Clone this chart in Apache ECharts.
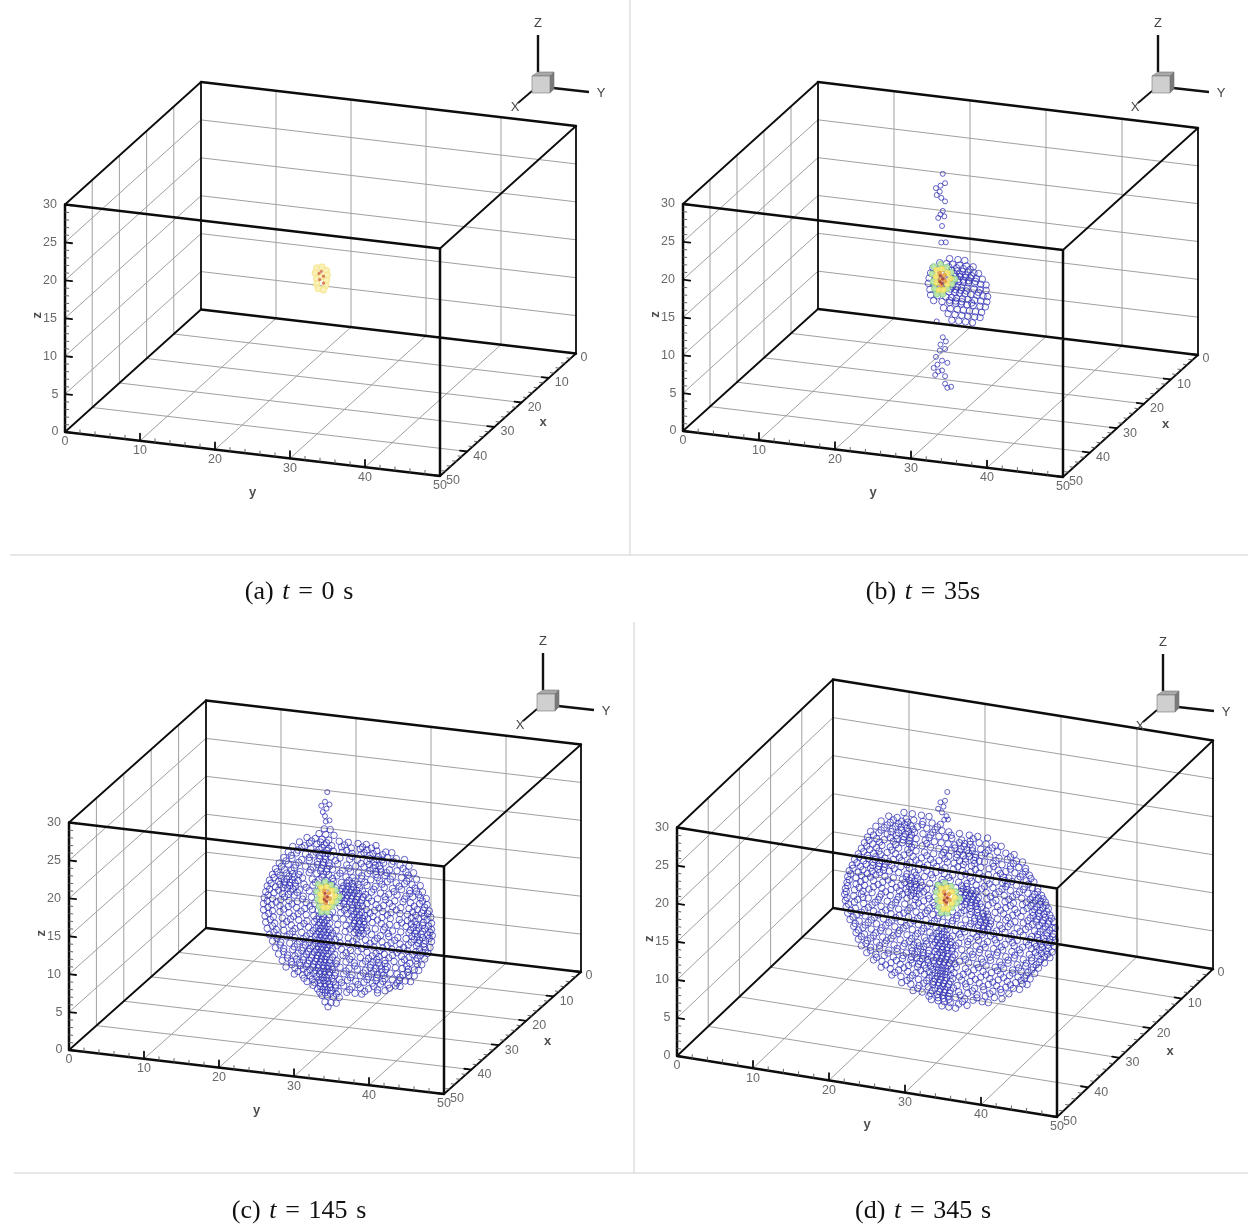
<!DOCTYPE html>
<html><head><meta charset="utf-8">
<style>html,body{margin:0;background:#fff}#main{width:1248px;height:1226px;filter:blur(0.4px)}</style>
<script src="https://cdn.jsdelivr.net/npm/echarts@6/dist/echarts.min.js"></script>
</head><body><div id="main"></div>
<script>
// ---- tick labels ----
const xTicks=[0,10,20,30,40,50];
const yTicks=[0,10,20,30,40,50];
const zTicks=[0,5,10,15,20,25,30];
const sp=' \u200A';
const captions=['(a)'+sp+'{i|t}'+sp+'='+sp+'0'+sp+'s','(b)'+sp+'{i|t}'+sp+'='+sp+'35s','(c)'+sp+'{i|t}'+sp+'='+sp+'145'+sp+'s','(d)'+sp+'{i|t}'+sp+'='+sp+'345'+sp+'s'];
// ---- particle positions: [z,[y,y,...]] ----
const plumeB=[[25.3,29],[25.6,27.8],[25,27.4],[24.4,27],[24.9,26.6],[24.5,26.1],[25.1,25.8],[25.6,25.4],[25.3,24.1],[25,23.6],[24.7,23.1],[25.5,23.4],[25.2,22.1],[25.1,19.9],[25.7,20],[24.5,9.4],[25.3,7.4],[25.7,6.9],[25,6.4],[25.6,5.9],[24.9,5.6],[24.4,4.7],[25.2,4.3],[25.9,4.1],[24.6,3.7],[24.1,3.2],[24.7,2.8],[25.2,3],[24.3,2.3],[25.6,2.3],[25.6,1.3],[25.9,0.8],[26.4,1]];
const cloudB=[
[17.9,[26.2,27.3,28.2]],
[17.2,[24.9,25.8,26.6,27.5,28.4,29.3]],
[16.8,[26.1,27.1,28,28.9]],
[16.4,[24,24.9,25.7,26.5,27.2,27.9,28.6,29.4,30]],
[16,[26.8,27.5,28.3,29.1]],
[15.7,[23.7,24.4,25.3,26.2,27,27.6,28.3,28.9,29.7,30.5]],
[15.3,[26.6,27.3,28,28.7,29.6]],
[15,[23.5,24.3,25.1,26,26.8,27.4,28,28.7,29.5,30.3,31]],
[14.3,[23.4,24.2,25,25.9,26.6,27.2,27.8,28.5,29.4,30.2,31]],
[13.9,[26.3,27,27.7,28.4,30]],
[13.5,[23.6,24.5,25.3,26.1,26.9,27.5,28.2,29,29.8,30.6,31.2]],
[12.8,[23.7,24.6,25.7,26.5,27.1,27.9,28.6,29.5,30.3,31.1]],
[12.4,[26.2,27,27.8,29.1]],
[12.1,[24.1,25.2,26.2,27,27.7,28.5,29.3,30.2,30.9]],
[11.3,[25.4,26.3,27.2,28,28.8,29.6,30.4]],
[10.6,[26,26.9,27.8,28.6,29.5,30.2]],
[9.8,[26.5,27.4,28.3,29.2]]];
const plumeC=[[25.3,28.9],[25,27.6],[25.6,27.3],[24.5,27],[25.2,26.7],[24.7,26.2],[25,25.7],[25.6,25.2],[25.1,25]];
const cloudC=[
[24,[24.9,25.7]],
[23.3,[24.2,25.1,26.2]],
[22.6,[22.6,23.7,24.6,25.5,26.9,28.1,29.4,30.5,31.8]],
[21.9,[21.6,22.9,23.9,24.9,25.9,27.2,28.5,29.7,30.6,31.9,33.1,33.9]],
[21.2,[20.7,21.9,23.1,24.2,25.2,26.1,27.3,28.6,29.8,31,32.1,33.3,34.5,35.6]],
[20.4,[20.1,21.2,22.4,23.4,24.3,25,25.8,27,28.3,29.3,30.6,31.5,32.8,33.9,35,36.2]],
[19.6,[19.5,20.6,21.9,22.9,24,24.8,25.5,26.7,27.9,29.1,30.2,31.4,32.4,33.6,34.6,35.8,36.8]],
[18.8,[18.9,20.1,21.1,22.4,23.4,24.5,25.3,26,27.3,28.4,29.5,30.7,31.8,33,34,35.2,36.2,37.2]],
[18,[18.4,19.6,20.5,21.7,22.9,23.9,24.8,25.5,26.6,27.8,28.7,29.9,31.1,32.3,33.3,34.5,35.6,36.6,37.7]],
[17.2,[18,19,20.2,20.9,22,23.3,24.2,25.1,26.1,27.2,27.9,28.6,29.4,30.6,31.7,32.9,34,35.2,36.3,37.2,38]],
[16.4,[17.6,18.8,19.6,20.3,21,22.2,23.4,24.4,25.4,26.4,27.3,27.9,28.5,29.2,30,31.2,32.4,33.5,34.6,35.8,36.7,37.7,38.5]],
[15.6,[17.3,18.4,19.4,20,20.7,21.6,22.9,23.9,26.6,27.4,28,28.6,29.3,30.1,30.8,32,33.1,34.3,35.4,36.4,37.6,38.6]],
[14.8,[17.1,18.2,19.3,20.1,20.9,22.1,23.2,26.9,27.6,28.3,29,29.7,30.6,31.8,32.8,34,35.1,36.2,37.3,38.1,38.9]],
[14,[16.9,18,19.1,20.2,21.3,22.5,23.6,27,27.9,28.7,29.5,30.5,31.6,32.7,33.8,35,36,37.1,38.2,39.1]],
[13.2,[16.8,17.9,19,20.1,21.2,22.3,23.3,24.1,25.2,26,27.1,28,28.9,29.6,30.3,31.4,32.6,33.7,34.9,36,37,38.1,39.2]],
[12.4,[16.8,18,19,20.2,21.4,22.5,23.5,24.2,24.8,25.5,26.4,27.4,28.3,29,29.6,30.2,31.3,32.5,33.6,34.6,35.8,36.8,37.5,38.3,39.2]],
[11.6,[17,18.1,19.3,20.4,21.5,22.6,23.6,24.3,24.9,25.6,26.7,27.8,28.7,29.3,29.9,30.5,31.7,32.8,34,35.1,36.2,37,37.8,38.7,39.3]],
[10.8,[17.1,18.3,19.4,20.5,21.7,22.8,23.8,24.4,25,25.6,26.5,27.7,28.9,29.5,30.1,31.2,32.4,33.5,34.7,35.8,36.9,37.6,38.4,39.2]],
[10,[17.3,18.5,19.5,20.7,21.9,23,23.9,24.5,25.1,25.8,26.9,28.1,29.2,30.4,31.6,32.6,33.8,35,36.1,37.2,38.2,39]],
[9.2,[17.6,18.7,19.9,21,22.1,23.1,24,24.6,25.2,25.9,27,28.1,29.3,30.5,31.5,32.7,33.9,34.9,36,37.1,38,38.7]],
[8.4,[18,19.1,20.3,21.3,22.4,23.4,24.1,24.7,25.3,26,27.2,28.4,29.4,30.6,31.8,32.9,34,35.2,36.2,37.3,38.3]],
[7.6,[18.4,19.5,20.7,21.9,22.8,23.6,24.2,24.8,25.4,26.3,27.4,28.6,29.7,30.8,31.9,33,34.2,35.2,36.3,37.3,37.9]],
[6.8,[18.8,20,21,22.2,23.2,23.9,24.5,25,25.6,26.6,27.8,28.9,30,31.1,32.3,33.3,34.4,35.3,36.1,36.9,37.5]],
[6,[19.3,20.5,21.6,22.7,23.5,24.1,24.7,25.3,25.9,27,28.2,29.3,30.4,31.5,32.6,33.7,34.6,35.4,36.2,36.9]],
[5.2,[19.8,21,22.1,23,23.8,24.4,25,25.6,26.4,27.5,28.6,29.7,30.8,31.9,33,34,34.9,35.7,36.4]],
[4.4,[20.9,22,23,23.9,24.6,25.2,25.9,26.9,28,29.1,30.2,31.3,32.4,33.4,34.4,35]],
[3.6,[22.6,23.6,24.4,25,25.6,26.4,27.5,28.6,29.7,30.8,32,33]],
[2.8,[24,24.7,25.3,25.9,26.8,27.9,29,29.9]],
[2,[24.6,25.3,26.1,26.9]],
[1.2,[25,25.8,26.5]],
[0.6,[25.4]]];
// second depth layer of cloud C, between the rows above, with the darker patches
const cloudC2=[
[22.2,[23.2,24.4,25.2,27.6,30,31.2]],
[21.5,[22.3,24.6,25.5,27.9,30.2,31.4,32.7]],
[20.8,[21.4,23.8,24.7,25.4,28.6,31,31.9,32.6,34.1]],
[20,[20.5,22.9,24.3,25.1,26.4,29.8,30.9,31.7,32.3,35.4]],
[19.2,[19.8,21.5,24,24.7,25.6,28.2,31,31.8,32.5,33.2,36.1]],
[18.4,[19.2,20.9,23.1,24.4,25.2,27,29.9,32,33.7,35.9]],
[17.6,[18.6,19.9,20.7,21.5,24.6,26,28.2,29,30.3,32.6,34.9,37]],
[16.8,[18.2,19.2,19.9,20.6,21.4,23.7,25.9,27.5,28.1,28.8,29.6,31.5,34.2,36.3,37.5]],
[16,[17.8,19,19.7,20.3,21.1,22.5,27,27.7,28.3,28.9,29.5,30.4,33,35.6,38]],
[15.2,[17.6,18.8,20.4,21.3,27.2,27.9,28.5,29.2,29.9,31.2,33.6,36.9,38.3]],
[14.4,[17.4,19.6,22,27.5,28.6,29.3,30,32.2,34.5,36.7,37.9,38.7]],
[13.6,[17.3,18.5,20.6,23,27.6,28.5,29.2,29.9,31,33.3,36.5,37.5,38.6]],
[12.8,[17.4,19.5,21.8,24.5,25.6,28.6,29.3,30,30.7,32,35.2,36.5,37.2,38,38.8]],
[12,[17.5,20.8,23.9,24.6,25.2,28.9,29.6,30.2,33,36.4,37.2,38,39]],
[11.2,[17.7,19.9,22.2,24.1,24.7,25.3,28.3,29.2,29.8,30.6,33.4,36.6,37.3,38,38.9]],
[10.4,[18,21,23.4,24.2,24.8,25.4,26,29.7,32,34.3,36.5,37.4,38.2]],
[9.6,[18.2,20.3,22.5,23.7,24.3,24.9,25.5,26.4,28.7,31,33.3,35.5,37.6,38.4]],
[8.8,[18.6,21.6,22.9,23.8,24.4,25,25.6,26.6,29.9,32.3,34.6,36.7,37.7]],
[8,[19,20.9,22.1,23,23.9,24.5,25.1,25.8,27.8,31.3,32.2,33.5,35.6,37.1]],
[7.2,[19.5,21.4,22.5,23.3,24,24.6,25.2,26,28.3,30.4,31.4,32.1,33,35.9]],
[6.4,[20,21.2,22.1,22.9,23.7,24.4,25,25.6,26.5,29,31,31.8,32.5,33.1,36]],
[5.6,[20.6,21.7,22.5,23.4,24.1,24.8,25.4,26,27.8,30.1,31.2,32,32.8,35]],
[4.8,[21.4,22.6,23.5,24.3,24.9,25.5,26.3,28.4,30.6,31.8,32.7,34.6]],
[4,[22.2,23.3,24.2,24.8,25.4,26.1,27.2,29.4,31.5,33.6]],
[3.2,[23.4,24.4,25,25.7,26.4,28.3,30.3,32]],
[2.4,[24.3,25,25.7,26.5]]];
const plumeD=[[25.3,29],[25,27.8],[24.4,27.5],[24.8,27],[24.1,26.6],[24.6,26.2],[25.2,25.8],[24.9,25.3],[25.4,25.4]];
const cloudD=[
[25.4,[19.6,20.7,21.9,22.9]],
[24.6,[17.6,18.7,19.9,20.9,22.1,23.3,24.4]],
[23.8,[16.6,17.8,18.9,19.7,20.5,21.4,22.6,23.7,24.6,25.5,26.9,28.2,29.3,30.6]],
[23,[15.9,17,18.1,19.3,20.2,21,22.1,23.1,24.2,25.1,25.9,27.2,28.3,29.5,30.4,31.6,32.4]],
[22.2,[15.2,16.3,17.4,18.6,19.6,20.4,21.2,22.4,23.6,24.5,25.4,26.3,27.5,28.6,29.7,30.7,31.9,33,34.1]],
[21.4,[14.8,16,17,18.2,19.4,20.3,21,22,23.1,24.2,25.1,25.8,26.9,28.1,29,29.8,30.9,32.1,33.2,34.4,35.2]],
[20.6,[14.4,15.5,16.7,17.8,18.9,20.1,21.2,22.3,23.5,24.6,25.5,26.5,27.7,28.8,29.5,30.2,31.3,32.5,33.6,34.7,35.6]],
[19.8,[14,15.1,16.3,17.4,18.5,19.6,20.8,21.9,23.1,24.2,25.3,26.2,27.4,28.5,29.7,30.8,32,33,34.2,35.2,36.1]],
[19,[13.6,14.8,15.9,17.1,18.2,19.3,20.4,21.6,22.7,23.9,25,26.1,27.3,28.4,29.5,30.7,31.8,32.7,33.4,34.6,35.7,36.7]],
[18.2,[13.1,14.3,15.5,16.4,17.1,18,19.2,20.3,21.5,22.6,23.8,24.9,26,27.1,28.3,29.4,30.5,31.7,32.6,33.2,34.4,35.5,36.5,37.2]],
[17.4,[12.8,13.9,15.2,16.2,16.9,17.7,18.9,20,21.2,22.3,23.4,24.6,25.7,26.8,27.9,29.1,30.2,31.3,32.5,33.6,34.8,35.9,36.8,37.7]],
[16.6,[12.4,13.6,14.8,15.9,17.1,18.2,19.4,20.3,21,21.8,23,24.1,25.3,26.4,27.4,28,28.6,29.2,30.4,31.6,32.8,33.9,35.1,36.2,36.9,37.6,38.2]],
[15.8,[12.2,13.3,14.5,15.6,16.8,18,19.2,20.3,21,21.7,22.6,23.8,27,27.7,28.2,28.8,29.4,30.5,31.7,32.9,34,35.2,36.3,37.1,37.9,38.6]],
[15,[12.1,13.3,14.4,15.6,16.7,17.9,19,20.1,20.9,21.6,22.8,23.7,27.1,27.8,28.4,29,29.6,30.7,31.9,33,34.2,35.3,36.5,37.3,38,38.8]],
[14.2,[11.9,13.1,14.2,15.4,16.6,17.8,18.9,20,21.1,22.2,23.4,27.2,28.3,29.3,30.4,31.6,32.7,33.9,35,36.2,37.1,37.9,38.7,39.3]],
[13.4,[11.8,13,14.2,14.9,16.2,17.4,18.5,19.7,20.9,22,23,24,25.1,26,27.1,28.3,29.4,30.1,30.7,31.9,33,34.2,35.3,36.5,37.4,38.2,39.1,39.5]],
[12.6,[11.9,13.1,14.3,15.4,16.6,17.8,18.9,20.1,21.2,22.4,23.4,24.2,25.4,26.5,27.7,28.9,29.7,30.4,31,32.2,33.3,34.5,35.6,36.8,37.5,38.4,39.3]],
[11.8,[12,13.2,14.4,15.6,16.7,17.9,19,20.2,21.4,22.5,23.6,24.7,25.9,27.1,28.2,29.3,30,30.6,31.8,32.9,34.1,35.3,36.4,37.2,38,38.8,39.5]],
[11,[12.2,13.4,14.5,15.7,16.9,18,19.2,20.4,21.5,22.7,23.8,24.6,25.3,26.4,27.6,28.7,29.9,31,32.2,33.4,34.5,35.7,36.8,37.6,38.5,39.4]],
[10.2,[12.5,13.7,14.9,16,17.2,18.4,19.5,20.7,21.9,23,23.9,24.6,25.2,26,27.1,28.3,29.4,30.6,31.8,32.9,34.1,35.2,36.4,37.4,38.3,39.1]],
[9.4,[13,14.2,15.3,16.5,17.6,18.8,20,21.1,22.3,23.3,24,24.6,25.2,25.8,26.8,28,29.1,30.3,31.4,32.6,33.8,34.9,36.1,37.2,38.1,38.8]],
[8.6,[13.3,14.4,15.6,16.8,17.9,19.1,20.3,21.4,22.6,23.5,24.1,24.7,25.3,26,27.2,28.3,29.5,30.7,31.8,33,34.1,35.3,36.4,37.4,38.1]],
[7.8,[13.6,14.8,16,17.1,18.3,19.5,20.6,21.8,22.9,23.7,24.3,24.8,25.4,26.3,27.5,28.7,29.8,31,32.2,33.3,34.5,35.6,36.6,37.3]],
[7,[14,15.2,16.4,17.6,18.7,19.9,21,22.2,23.2,23.9,24.5,25.1,25.8,26.9,28.1,29.2,30.4,31.6,32.7,33.9,35,35.9,36.8]],
[6.2,[14.7,15.9,17,18.2,19.4,20.5,21.7,22.8,23.6,24.2,24.8,25.4,26.5,27.7,28.8,30,31.1,32.3,33.5,34.6,35.5,36.2]],
[5.4,[15.6,16.7,17.9,19.1,20.2,21.4,22.5,23.4,24.1,24.7,25.3,26.2,27.4,28.5,29.7,30.9,32,33.2,34.3,35.2,35.8]],
[4.6,[16.6,17.8,18.9,20.1,21.2,22.3,23.3,24,24.6,25.2,26,27.2,28.3,29.5,30.7,31.8,33,34,34.8]],
[3.8,[18,19.2,20.4,21.5,22.6,23.5,24.2,24.8,25.5,26.6,27.8,28.9,30.1,31.3,32.4,33.4]],
[3,[19.3,20.5,21.6,22.8,23.7,24.4,25,25.7,26.8,28,29.2,30.3,31.5,32.5]],
[2.2,[20.8,22,23.1,24,24.7,25.4,26.4,27.6,28.7,29.9,30.7]],
[1.4,[23.2,24.1,24.9,25.7,26.8,27.9]],
[0.8,[24.6,25.5,26.4]]];
const cloudD2=[
[24.2,[18.2,19.3,20.1,22,24]],
[23.4,[17.4,18.5,19.2,20,20.8,23.4,25.8,28.7]],
[22.6,[16.6,17.9,18.9,19.8,20.6,22.9,26.9,27.6,28.3,31.2]],
[21.8,[15.6,17.8,18.7,19.5,20.3,22.6,26.3,27.1,27.9,28.6,30.3,33.6]],
[21,[15,16.4,18.5,20.6,24.8,26.6,27.4,28.2,29,31.7,34]],
[20.2,[14.7,16,18,20.3,22.6,25,26.9,27.7,28.9,31.4,33.6,35.6]],
[19.4,[14.3,15.6,16.5,19,21.2,23.5,26.7,29,32.3,34.9,36.3]],
[18.6,[13.7,14.9,15.8,16.7,17.6,20,22.2,24.5,27.7,30,32.9,33.8,36]],
[17.8,[13.4,14.6,15.5,16.3,17,18.3,21,23.2,25.5,28.5,30.8,33,35.3,37.2]],
[17,[12.9,14.2,15.4,16.4,19.9,20.6,21.4,24.7,27.2,27.8,29.8,32.1,34.4,36.5,37.3,37.9]],
[16.2,[12.6,14,15.2,17.5,19.7,20.5,21.2,22,24,27.1,27.8,28.4,29,31,33.4,35.7,36.6,37.5,38.3]],
[15.4,[12.4,13.9,16.2,18.6,19.9,20.6,21.3,22.2,27.4,28,28.6,29.2,31.3,33.6,35.8,36.8,37.5,38.4]],
[14.6,[12.2,13.7,15,17.2,19.4,20.5,21.2,22.9,27.6,28.5,29.1,29.8,32.3,34.5,36.6,37.4,38.2,39]],
[13.8,[12,14,16.4,18.7,21.5,23.6,27.5,28.5,29.2,30,30.6,33.3,35.9,37,37.8,38.6]],
[13,[12.1,13.5,15.8,18,20.4,22.7,24.6,26.6,28.9,29.6,30.3,31,33.6,36,37.9,38.8]],
[12.2,[12.3,14.9,17.2,19.6,21.8,24,26,28.4,29.4,30.1,30.8,32.5,34.9,37.2,38.4,39.2]],
[11.4,[12.6,14,16.2,18.5,20.9,23.2,25.2,27.4,29.5,30.2,31.4,33.7,36.2,37.4,38.2,39]],
[10.6,[12.9,15.3,17.6,19.9,22.2,24.2,24.9,26.9,29.2,31.6,33.9,36,37,37.8,38.6]],
[9.8,[13.2,14.5,16.7,19,21.4,23.4,24.2,24.9,25.6,28,30.1,32.4,34.8,36.9,37.7,38.5]],
[9,[13.6,15.9,18.2,20.6,22.5,23.7,24.4,25,25.7,26.4,29.6,31.9,34.2,36.4,37.6]],
[8.2,[14,15.2,17.3,19.7,20.9,21.6,22.2,23.9,24.6,25.2,25.9,28.6,30.9,33.3,35.7,37]],
[7.4,[14.6,16.4,18.7,20.7,21.4,22.1,22.8,24,24.7,25.3,26,27.7,30,32.4,34.7,36.4]],
[6.6,[15.2,17.5,19.5,20.6,21.3,22,22.7,23.5,24.3,24.9,25.6,26.3,29.4,31.9,33.9,35.7]],
[5.8,[16,18.6,20.7,21.5,22.3,23.1,23.9,24.5,25.1,25.8,28,30.4,32.7,35]],
[5,[17.2,19.6,21.8,22.9,23.7,24.4,25,25.7,26.9,29,31.3,33.6]],
[4.2,[18.4,20.7,22.9,23.7,24.4,25,25.7,27.7,30,32.3]],
[3.4,[20,22.2,23.4,24.1,24.7,25.3,26.1,28.6,30.9]],
[2.6,[21.4,23.3,24.3,24.9,25.6,27,29.2]],
[1.8,[22.9,24.1,24.8,25.5,27.3]]];
const emptyLayer=[];
// ---- source core particles, [y,z], by concentration band ----
const coreAYellow=[[24.5,16.4],[25.2,16.6],[25.8,16.2],[24.3,15.7],[25.9,15.6],[24.5,15],[25.8,14.9],[24.5,14.3],[25.7,14.2],[24.7,13.7],[25.4,13.6],[25.1,15.3]];
const coreARed=[[24.8,15.7],[25.4,15.4],[24.9,14.9],[25.4,14.5],[25.1,16]];
const coreGreen=[[24.1,16.6],[25,17],[25.8,16.7],[26.4,16.1],[23.9,15.6],[26.9,15.3],[24,14.6],[26.5,14.6],[24.2,13.7],[25.9,13.9],[24.5,13],[25.3,13.1]];
const coreYellow=[[24.5,16.2],[25.2,16.4],[25.9,16],[26.3,15.3],[24.4,15.3],[24.5,14.5],[25.9,14.5],[24.8,13.6],[25.4,13.7]];
const coreOrange=[[24.9,15.8],[25.5,15.6],[25,15],[25.6,14.9],[25.1,14.3]];
const coreRed=[[25,15.5],[25.3,15.1],[24.9,14.7],[25.2,14.5]];

const axisBlack='#0c0c0c',gridGray='#a0a0a0',labelGray='#444',particleBlue='#3030b4';
const panels=[
 {left:0,top:0,w:624,h:550,O:[65,432],yv:[375,44],xv:[136,-122.5],zl:227.5,tri:[0,0],clouds:null,plume:null,extra:emptyLayer},
 {left:624,top:0,w:624,h:550,O:[683,431],yv:[380,46],xv:[135,-122],zl:227,tri:[620,0],clouds:cloudB,plume:plumeB,extra:emptyLayer},
 {left:0,top:620,w:624,h:550,O:[69,1050],yv:[375,44],xv:[137,-122],zl:227.5,tri:[5,618],clouds:cloudC,plume:plumeC,extra:cloudC2},
 {left:624,top:620,w:624,h:550,O:[677,1056],yv:[380,61],xv:[156,-148],zl:228.5,tri:[625,619],clouds:cloudD,plume:plumeD,extra:cloudD2}
];
const xMax=50,yMax=50,zMax=30,depth=25;
function proj(p,x,y,z){return [
 p.O[0]+y/yMax*p.yv[0]+(xMax-x)/xMax*p.xv[0]-p.left,
 p.O[1]+y/yMax*p.yv[1]+(xMax-x)/xMax*p.xv[1]-z/zMax*p.zl-p.top];}
const grids=[],xAxes=[],yAxes=[],series=[],graphics=[];
function lineSeries(i,segs,color,width,z){
 const data=[];segs.forEach(s=>{data.push(s[0],s[1],[null,null]);});
 series.push({type:'line',xAxisIndex:i,yAxisIndex:i,data:data,symbol:'none',connectNulls:false,clip:false,silent:true,z:z,
  lineStyle:{color:color,width:width,cap:'round'},animation:false});
}
function scatterSeries(i,pts,size,border,fill,bw,z,op){
 series.push({type:'scatter',xAxisIndex:i,yAxisIndex:i,data:pts,symbol:'circle',symbolSize:size,silent:true,z:z,animation:false,clip:false,
  itemStyle:{color:fill,borderColor:border,borderWidth:bw,opacity:op==null?1:op}});
}
panels.forEach((p,i)=>{
 grids.push({left:p.left,top:p.top,width:p.w,height:p.h,show:false});
 xAxes.push({type:'value',gridIndex:i,min:0,max:p.w,show:false});
 yAxes.push({type:'value',gridIndex:i,min:0,max:p.h,inverse:true,show:false});
 const P=(x,y,z)=>proj(p,x,y,z);
 const g=[];
 [10,20,30,40].forEach(v=>{
  g.push([P(0,v,0),P(0,v,zMax)]);
  g.push([P(v,0,0),P(v,0,zMax)]);
  g.push([P(v,0,0),P(v,yMax,0)]);
  g.push([P(0,v,0),P(xMax,v,0)]);
 });
 [5,10,15,20,25].forEach(v=>{
  g.push([P(0,0,v),P(0,yMax,v)]);
  g.push([P(0,0,v),P(xMax,0,v)]);
 });
 lineSeries(i,g,gridGray,1,1);
 if(p.clouds){
  const pts=[];p.clouds.concat(p.extra).forEach(r=>r[1].forEach(y=>pts.push(P(depth,y,r[0]))));
  scatterSeries(i,pts,6.5,particleBlue,'rgba(255,255,255,0)',1,3,0.75);
  scatterSeries(i,p.plume.map(d=>P(depth,d[0],d[1])),5,particleBlue,'rgba(255,255,255,0)',1,3,0.75);
  scatterSeries(i,coreGreen.map(d=>P(depth,d[0],d[1])),6,'#7ccb8c','#bfe6a8',0.8,4,0.95);
  scatterSeries(i,coreYellow.map(d=>P(depth,d[0],d[1])),5.5,'#e8d84e','#f4e878',0.8,5,0.95);
  scatterSeries(i,coreOrange.map(d=>P(depth,d[0],d[1])),4,'#e09a3c','#eaa850',0.8,6,0.95);
  scatterSeries(i,coreRed.map(d=>P(depth,d[0],d[1])),2.6,'#a8443c','#b04a3c',0.6,7,0.95);
 }else{
  scatterSeries(i,coreAYellow.map(d=>P(depth,d[0],d[1])),6.5,'#f2df78','#faf0b0',0.8,4,0.9);
  scatterSeries(i,coreARed.map(d=>P(depth,d[0],d[1])),2.6,'#cc6a50','#d87a58',0.6,5,0.9);
 }
 const thick=[[P(xMax,0,zMax),P(xMax,yMax,zMax)],[P(xMax,0,0),P(xMax,yMax,0)],[P(xMax,0,0),P(xMax,0,zMax)],[P(xMax,yMax,0),P(xMax,yMax,zMax)],[P(0,0,zMax),P(0,yMax,zMax)],[P(0,0,0),P(0,yMax,0)]];
 const thin=[[P(0,0,0),P(0,0,zMax)],[P(0,yMax,0),P(0,yMax,zMax)],[P(xMax,0,zMax),P(0,0,zMax)],[P(xMax,yMax,zMax),P(0,yMax,zMax)],[P(xMax,0,0),P(0,0,0)],[P(xMax,yMax,0),P(0,yMax,0)]];
 lineSeries(i,thick,axisBlack,2.5,9);
 lineSeries(i,thin,axisBlack,1.8,9);
 const maj=[],min=[];
 for(let v=0;v<=zMax;v++){(v%5===0?maj:min).push([P(xMax,0,v),P(xMax,v%5===0?0.95:0.5,v)]);}
 for(let v=0;v<=yMax;v+=2){(v%10===0?maj:min).push([P(xMax,v,0),P(xMax,v,v%10===0?0.95:0.5)]);}
 for(let v=0;v<=xMax;v+=2){(v%10===0?maj:min).push([P(v,yMax,0),P(v,yMax-(v%10===0?0.95:0.5),0)]);}
 lineSeries(i,maj,axisBlack,1.8,9);
 lineSeries(i,min,'#555',0.9,9);
 const lab=[];
 const add=(pt,dx,dy,text)=>lab.push({value:[pt[0]+dx,pt[1]+dy],text});
 zTicks.forEach(v=>add(P(xMax,0,v),-10-(v>=10?5:0),0,String(v)));
 yTicks.forEach(v=>add(P(xMax,v,0),0,10,String(v)));
 xTicks.forEach(v=>add(P(v,yMax,0),v===0?8:13,v===0?4:5,String(v)));
 series.push({type:'scatter',xAxisIndex:i,yAxisIndex:i,data:lab,symbolSize:1,silent:true,z:10,animation:false,clip:false,itemStyle:{color:'transparent'},
  label:{show:true,position:'inside',formatter:o=>o.data.text,fontFamily:'Liberation Sans',fontSize:12.5,color:labelGray}});
 const a=P(25,yMax,0),b=P(xMax,25,0),c=P(xMax,0,15);
 const titles=[
  {value:[a[0]+35,a[1]+8],text:'x'},
  {value:[b[0],b[1]+38],text:'y'},
  {value:[c[0]-28,c[1]-3],text:'z',label:{rotate:90}}];
 series.push({type:'scatter',xAxisIndex:i,yAxisIndex:i,data:titles,symbolSize:1,silent:true,z:10,animation:false,clip:false,itemStyle:{color:'transparent'},
  label:{show:true,position:'inside',formatter:o=>o.data.text,fontFamily:'Liberation Sans',fontSize:13,fontWeight:'bold',color:'#222'}});
 const t=p.tri,X=v=>v+t[0],Y=v=>v+t[1];
 const seg=(a,b,c,d,w)=>graphics.push({type:'line',shape:{x1:X(a),y1:Y(b),x2:X(c),y2:Y(d)},style:{stroke:'#111',lineWidth:w||2.4},z:12});
 seg(538,35,538,72);seg(553,88,589,92);seg(532,91,518,103,1.8);
 const poly=(pts,f)=>graphics.push({type:'polygon',shape:{points:pts.map(q=>[X(q[0]),Y(q[1])])},style:{fill:f,stroke:'#777',lineWidth:0.6},z:12});
 poly([[532,76],[550,76],[554,72],[538,72]],'#a9a9a9');
 poly([[550,76],[554,72],[554,89],[550,93]],'#7a7a7a');
 poly([[532,76],[550,76],[550,93],[532,93]],'#cfcfcf');
 const txt=(s,a,b)=>graphics.push({type:'text',x:X(a),y:Y(b),style:{text:s,font:'13px "Liberation Sans"',fill:'#444',align:'center',verticalAlign:'middle'},z:12});
 txt('Z',538,23);txt('Y',601,93);txt('X',515,107);
});
[[10,555,1248,555],[630,0,630,555],[14,1173,1248,1173],[634,622,634,1173]].forEach(s=>graphics.push({type:'line',shape:{x1:s[0],y1:s[1],x2:s[2],y2:s[3]},style:{stroke:'#cfcfcf',lineWidth:1},z:1}));
const capPos=[[299,592],[923,592],[299,1211],[923,1211]];
const titleOpt=captions.map((c,i)=>({text:c,left:capPos[i][0],top:capPos[i][1],textAlign:'center',textVerticalAlign:'middle',padding:0,
 textStyle:{fontFamily:'Liberation Serif',fontSize:26,fontWeight:'normal',color:'#111',rich:{i:{fontFamily:'Liberation Serif',fontStyle:'italic',fontSize:26,color:'#111'}}}}));
const chart=echarts.init(document.getElementById('main'),null,{renderer:'canvas'});
chart.setOption({animation:false,backgroundColor:'#fff',title:titleOpt,grid:grids,xAxis:xAxes,yAxis:yAxes,series:series,graphic:{elements:graphics},tooltip:{show:false}});
</script></body></html>
